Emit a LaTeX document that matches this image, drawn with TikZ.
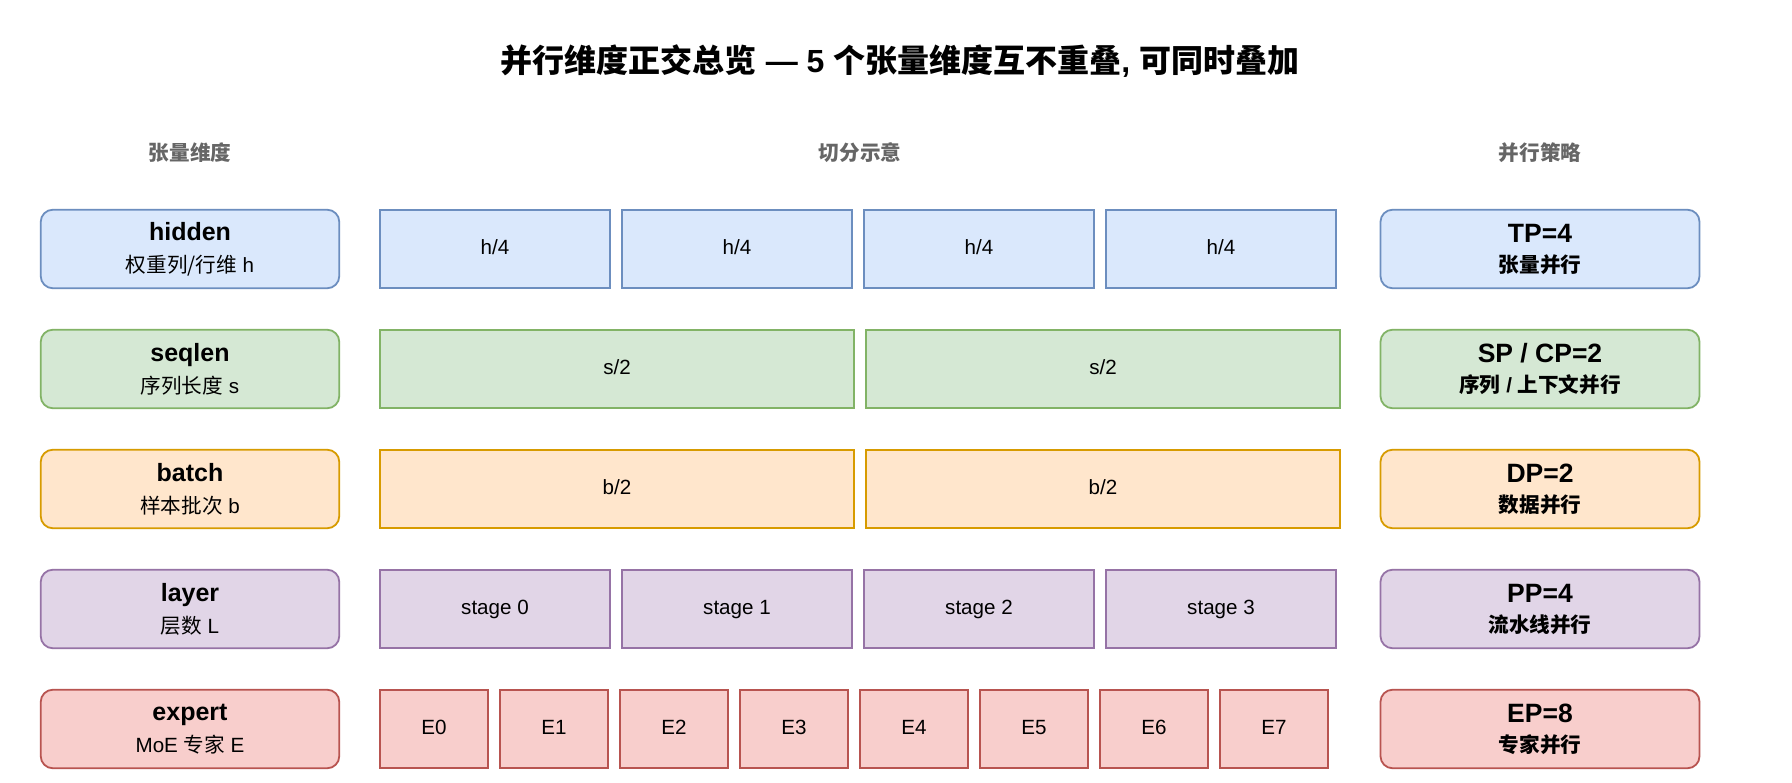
\documentclass[tikz,border=0pt]{standalone}
\usepackage{fontspec}
\setmainfont{Liberation Sans}
\newfontfamily\cjk{Noto Sans CJK SC}
\usepackage{tikz}

\definecolor{hidfill}{HTML}{DAE8FC}
\definecolor{hidline}{HTML}{6C8EBF}
\definecolor{seqfill}{HTML}{D5E8D4}
\definecolor{seqline}{HTML}{82B366}
\definecolor{batfill}{HTML}{FFE6CC}
\definecolor{batline}{HTML}{D79B00}
\definecolor{layfill}{HTML}{E1D5E7}
\definecolor{layline}{HTML}{9673A6}
\definecolor{expfill}{HTML}{F8CECC}
\definecolor{expline}{HTML}{B85450}
\definecolor{headgray}{HTML}{666666}

\tikzset{dimbox/.style = {shape=rectangle,draw,rounded corners=12pt,line width=1.8pt,minimum width=298.5pt,minimum height=78.5pt,align=center,font=\fontsize{20.6}{32}\selectfont}}
\tikzset{planbox/.style = {dimbox,minimum width=319pt,font=\bfseries\fontsize{20.6}{30}\selectfont}}
\tikzset{cell/.style = {shape=rectangle,draw,line width=1.8pt,minimum height=78.5pt,text height=15pt,text depth=4pt,font=\fontsize{20.6}{24}\selectfont}}
\tikzset{qcell/.style = {cell,minimum width=229.5pt}}
\tikzset{hcell/.style = {cell,minimum width=473.5pt}}
\tikzset{ecell/.style = {cell,minimum width=107.5pt}}
\tikzset{colhead/.style = {text=headgray,font=\cjk\bfseries\fontsize{20.6}{24}\selectfont}}
\tikzset{hidcol/.style = {fill=hidfill,draw=hidline}}
\tikzset{seqcol/.style = {fill=seqfill,draw=seqline}}
\tikzset{batcol/.style = {fill=batfill,draw=batline}}
\tikzset{laycol/.style = {fill=layfill,draw=layline}}
\tikzset{expcol/.style = {fill=expfill,draw=expline}}

\begin{document}
\begin{tikzpicture}[x=1pt,y=-1pt]
\useasboundingbox[fill=white] (0,0) rectangle (1792,783);

\node (title) at (900,61) {\bfseries\fontsize{32}{38}\selectfont{\cjk 并行维度正交总览} — 5 {\cjk 个张量维度互不重叠}, {\cjk 可同时叠加}};

\node[colhead] (headdim) at (190,153) {张量维度};
\node[colhead] (headcut) at (860,153) {切分示意};
\node[colhead] (headplan) at (1540,153) {并行策略};

% hidden
\node[dimbox,hidcol] (hidden) at (190,249) {{\bfseries\fontsize{25}{32}\selectfont hidden}\\{\cjk 权重列/行维} h};
\node[qcell,hidcol] (h1) at (495,249) {h/4};
\node[qcell,hidcol] (h2) at (737,249) {h/4};
\node[qcell,hidcol] (h3) at (979,249) {h/4};
\node[qcell,hidcol] (h4) at (1221,249) {h/4};
\node[planbox,hidcol] (tp) at (1540,249) {{\fontsize{26.5}{30}\selectfont TP=4}\\{\cjk 张量并行}};

% seqlen
\node[dimbox,seqcol] (seqlen) at (190,369) {{\bfseries\fontsize{25}{32}\selectfont seqlen}\\{\cjk 序列长度} s};
\node[hcell,seqcol] (s1) at (617,369) {s/2};
\node[hcell,seqcol] (s2) at (1103,369) {s/2};
\node[planbox,seqcol] (sp) at (1540,369) {{\fontsize{26.5}{30}\selectfont SP / CP=2}\\{\cjk 序列} / {\cjk 上下文并行}};

% batch
\node[dimbox,batcol] (batch) at (190,489) {{\bfseries\fontsize{25}{32}\selectfont batch}\\{\cjk 样本批次} b};
\node[hcell,batcol] (b1) at (617,489) {b/2};
\node[hcell,batcol] (b2) at (1103,489) {b/2};
\node[planbox,batcol] (dp) at (1540,489) {{\fontsize{26.5}{30}\selectfont DP=2}\\{\cjk 数据并行}};

% layer
\node[dimbox,laycol] (layer) at (190,609) {{\bfseries\fontsize{25}{32}\selectfont layer}\\{\cjk 层数} L};
\node[qcell,laycol] (l1) at (495,609) {stage 0};
\node[qcell,laycol] (l2) at (737,609) {stage 1};
\node[qcell,laycol] (l3) at (979,609) {stage 2};
\node[qcell,laycol] (l4) at (1221,609) {stage 3};
\node[planbox,laycol] (pp) at (1540,609) {{\fontsize{26.5}{30}\selectfont PP=4}\\{\cjk 流水线并行}};

% expert
\node[dimbox,expcol] (expert) at (190,729) {{\bfseries\fontsize{25}{32}\selectfont expert}\\MoE {\cjk 专家} E};
\node[ecell,expcol] (e0) at (434,729) {E0};
\node[ecell,expcol] (e1) at (554,729) {E1};
\node[ecell,expcol] (e2) at (674,729) {E2};
\node[ecell,expcol] (e3) at (794,729) {E3};
\node[ecell,expcol] (e4) at (914,729) {E4};
\node[ecell,expcol] (e5) at (1034,729) {E5};
\node[ecell,expcol] (e6) at (1154,729) {E6};
\node[ecell,expcol] (e7) at (1274,729) {E7};
\node[planbox,expcol] (ep) at (1540,729) {{\fontsize{26.5}{30}\selectfont EP=8}\\{\cjk 专家并行}};

\end{tikzpicture}
\end{document}
